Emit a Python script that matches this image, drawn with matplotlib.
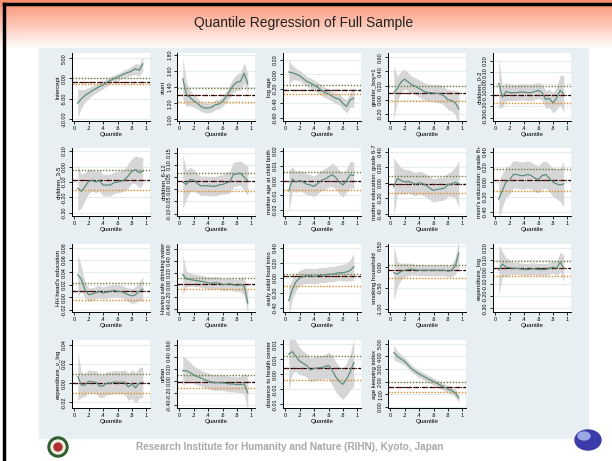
import numpy as np
import matplotlib
matplotlib.use("Agg")
import matplotlib.pyplot as plt
from matplotlib.patches import Rectangle, Circle, Ellipse

plt.rcParams['font.family'] = ['Liberation Sans', 'DejaVu Sans']

W, H = 612, 461

# quantile grid
quantiles = [0.05, 0.10, 0.15, 0.20, 0.25, 0.30, 0.35, 0.40, 0.45, 0.50,
             0.55, 0.60, 0.65, 0.70, 0.75, 0.80, 0.85, 0.90, 0.95]

# --- coefficients (estimate, CI half width) and OLS (estimate, lower, upper) ---
intercept_est = [-6.1, -5.0, -4.2, -3.6, -3.0, -2.5, -2.0, -1.6, -1.0, -0.5, 0.0, 0.3, 0.8, 1.2, 1.5, 1.9, 2.4, 2.0, 3.6]
intercept_hw = [3.5, 2.2, 1.6, 1.4, 1.2, 1.1, 1.0, 1.0, 0.9, 0.9, 0.9, 0.9, 0.9, 0.9, 1.0, 1.1, 1.3, 1.5, 1.8]
intercept_ols = [-0.85, -1.45, 0.17]

stunt_est = [1.50, 1.31, 1.27, 1.23, 1.20, 1.16, 1.14, 1.14, 1.15, 1.18, 1.19, 1.22, 1.28, 1.35, 1.42, 1.46, 1.47, 1.57, 1.44]
stunt_hw = [0.25, 0.15, 0.10, 0.08, 0.07, 0.06, 0.06, 0.06, 0.06, 0.06, 0.06, 0.06, 0.07, 0.08, 0.09, 0.10, 0.11, 0.13, 0.12]
stunt_ols = [1.30, 1.21, 1.39]

logage_est = [0.03, 0.02, 0.0, -0.02, -0.06, -0.10, -0.12, -0.15, -0.18, -0.22, -0.25, -0.27, -0.30, -0.33, -0.34, -0.40, -0.44, -0.35, -0.33]
logage_hw = [0.16, 0.10, 0.08, 0.07, 0.07, 0.07, 0.07, 0.07, 0.07, 0.07, 0.07, 0.07, 0.07, 0.07, 0.08, 0.08, 0.09, 0.10, 0.12]
logage_ols = [-0.21, -0.27, -0.15]

gender_est = [0.095, 0.16, 0.25, 0.29, 0.25, 0.21, 0.19, 0.16, 0.13, 0.105, 0.10, 0.095, 0.09, 0.08, 0.05, 0.0, -0.01, -0.04, -0.13]
gender_hw = [0.38, 0.17, 0.15, 0.14, 0.13, 0.12, 0.12, 0.12, 0.12, 0.12, 0.12, 0.12, 0.13, 0.13, 0.13, 0.14, 0.15, 0.17, 0.25]
gender_ols = [0.095, -0.015, 0.19]

ch02_est = [0.0, -0.12, -0.07, -0.08, -0.08, -0.08, -0.075, -0.075, -0.08, -0.08, -0.07, -0.06, -0.08, -0.14, -0.13, -0.17, -0.13, -0.06, -0.09]
ch02_hw = [0.22, 0.09, 0.08, 0.07, 0.07, 0.07, 0.07, 0.07, 0.07, 0.07, 0.07, 0.07, 0.07, 0.08, 0.08, 0.09, 0.10, 0.13, 0.16]
ch02_ols = [-0.10, -0.17, -0.017]

ch35_est = [-0.14, -0.16, -0.13, -0.095, -0.09, -0.10, -0.09, -0.12, -0.12, -0.12, -0.105, -0.10, -0.095, -0.085, -0.06, -0.03, -0.02, -0.04, -0.03]
ch35_hw = [0.15, 0.11, 0.09, 0.08, 0.07, 0.07, 0.07, 0.07, 0.07, 0.07, 0.07, 0.07, 0.07, 0.07, 0.08, 0.08, 0.09, 0.10, 0.09]
ch35_ols = [-0.09, -0.15, -0.025]

ch612_est = [0.03, 0.02, 0.04, 0.038, 0.025, 0.014, 0.015, 0.014, 0.013, 0.012, 0.018, 0.02, 0.026, 0.03, 0.06, 0.064, 0.066, 0.05, 0.035]
ch612_hw = [0.11, 0.06, 0.05, 0.045, 0.04, 0.04, 0.04, 0.04, 0.04, 0.04, 0.04, 0.04, 0.045, 0.045, 0.05, 0.05, 0.05, 0.055, 0.06]
ch612_ols = [0.033, -0.007, 0.069]

mage_est = [-0.007, 0.001, -0.001, 0.0, -0.001, -0.0025, -0.003, -0.004, -0.002, 0.0, 0.001, 0.0025, 0.004, 0.002, -0.001, -0.003, 0.0, 0.004, 0.0035]
mage_hw = [0.014, 0.008, 0.007, 0.007, 0.007, 0.007, 0.007, 0.007, 0.007, 0.007, 0.007, 0.007, 0.008, 0.008, 0.008, 0.008, 0.008, 0.009, 0.009]
mage_ols = [-0.0005, -0.0065, 0.0055]

medu67_est = [-0.05, 0.055, 0.03, 0.01, 0.02, 0.0, -0.02, 0.0, -0.01, -0.035, -0.07, -0.1, -0.085, -0.08, -0.07, -0.025, -0.015, 0.005, -0.015]
medu67_hw = [0.38, 0.20, 0.17, 0.16, 0.15, 0.15, 0.15, 0.15, 0.15, 0.15, 0.15, 0.15, 0.15, 0.15, 0.15, 0.15, 0.16, 0.20, 0.30]
medu67_ols = [-0.015, -0.13, 0.09]

medu8_est = [-0.225, -0.11, 0.0, 0.025, 0.1, 0.1, 0.085, 0.085, 0.1, 0.085, 0.05, 0.035, 0.085, 0.1, 0.05, 0.0, -0.025, -0.04, -0.025]
medu8_hw = [0.25, 0.22, 0.20, 0.19, 0.18, 0.18, 0.18, 0.18, 0.18, 0.18, 0.18, 0.18, 0.18, 0.18, 0.18, 0.19, 0.20, 0.22, 0.30]
medu8_ols = [0.025, -0.115, 0.175]

hhedu_est = [0.036, 0.029, 0.012, 0.004, 0.005, 0.0075, 0.009, 0.0065, 0.008, 0.0095, 0.011, 0.0095, 0.009, 0.0065, 0.004, 0.002, 0.004, 0.0095, 0.013]
hhedu_hw = [0.035, 0.02, 0.013, 0.011, 0.01, 0.01, 0.01, 0.01, 0.01, 0.01, 0.01, 0.01, 0.01, 0.01, 0.011, 0.012, 0.013, 0.015, 0.02]
hhedu_ols = [0.0106, -0.0045, 0.023]

water_est = [0.17, 0.10, 0.09, 0.08, 0.07, 0.06, 0.05, 0.03, 0.03, 0.035, 0.03, 0.005, 0.01, 0.02, 0.0, -0.01, 0.005, -0.02, -0.30]
water_hw = [0.33, 0.13, 0.11, 0.10, 0.10, 0.10, 0.10, 0.10, 0.10, 0.10, 0.10, 0.10, 0.10, 0.10, 0.10, 0.10, 0.12, 0.15, 0.18]
water_ols = [0.02, -0.07, 0.12]

food_est = [-0.30, -0.15, -0.05, 0.0, 0.02, 0.03, 0.03, 0.02, 0.03, 0.04, 0.04, 0.05, 0.05, 0.06, 0.07, 0.07, 0.08, 0.10, 0.15]
food_hw = [0.20, 0.13, 0.11, 0.10, 0.10, 0.10, 0.10, 0.10, 0.10, 0.10, 0.10, 0.10, 0.10, 0.10, 0.10, 0.11, 0.12, 0.14, 0.18]
food_ols = [0.02, -0.10, 0.05]

smoke_est = [-0.14, -0.17, -0.11, -0.08, -0.06, -0.05, -0.07, -0.08, -0.08, -0.08, -0.08, -0.08, -0.08, -0.08, -0.08, -0.10, -0.08, 0.02, 0.33]
smoke_hw = [0.65, 0.30, 0.20, 0.17, 0.15, 0.14, 0.13, 0.13, 0.13, 0.13, 0.13, 0.13, 0.13, 0.13, 0.13, 0.14, 0.15, 0.20, 0.35]
smoke_ols = [-0.08, -0.26, 0.045]

explog_est = [0.014, 0.066, 0.04, 0.035, 0.03, 0.03, 0.025, 0.02, 0.02, 0.025, 0.025, 0.02, 0.02, 0.02, 0.03, 0.04, 0.03, 0.08, 0.03]
explog_hw = [0.21, 0.10, 0.08, 0.06, 0.05, 0.05, 0.05, 0.05, 0.05, 0.05, 0.05, 0.05, 0.05, 0.05, 0.05, 0.05, 0.06, 0.08, 0.11]
explog_ol = [0.03, -0.03, 0.094]

expv_est = [0.007, -0.002, -0.002, 0.002, 0.001, 0.001, -0.003, -0.003, 0.0, 0.0, 0.001, 0.001, 0.001, 0.001, -0.004, -0.001, -0.005, 0.0, 0.001]
expv_hw = [0.025, 0.013, 0.012, 0.012, 0.012, 0.012, 0.012, 0.012, 0.012, 0.012, 0.012, 0.012, 0.012, 0.013, 0.014, 0.015, 0.016, 0.016, 0.016]
expv_ols = [0.0, -0.010, 0.010]

urban_est = [0.17, 0.17, 0.14, 0.10, 0.07, 0.05, 0.02, 0.0, -0.02, -0.03, -0.03, -0.03, -0.04, -0.05, -0.05, -0.06, -0.06, -0.05, -0.20]
urban_hw = [0.25, 0.20, 0.17, 0.15, 0.14, 0.13, 0.13, 0.13, 0.13, 0.13, 0.13, 0.13, 0.13, 0.13, 0.13, 0.13, 0.14, 0.17, 0.30]
urban_ols = [-0.01, -0.11, 0.10]

dist_est = [0.0068, 0.0076, 0.006, 0.0045, 0.0037, 0.003, 0.0015, 0.002, 0.0022, 0.0023, 0.0026, 0.003, 0.0015, -0.0008, -0.0023, -0.0033, -0.0015, 0.0008, 0.004]
dist_hw = [0.012, 0.007, 0.005, 0.0045, 0.004, 0.004, 0.004, 0.004, 0.004, 0.004, 0.004, 0.0045, 0.005, 0.005, 0.005, 0.005, 0.0055, 0.006, 0.008]
dist_ols = [0.002, -0.002, 0.006]

agekeep_est = [4.3, 4.0, 3.8, 3.6, 3.3, 3.0, 2.8, 2.6, 2.45, 2.3, 2.15, 2.0, 1.85, 1.7, 1.55, 1.4, 1.3, 1.1, 0.7]
agekeep_hw = [0.6, 0.4, 0.35, 0.3, 0.3, 0.28, 0.28, 0.28, 0.28, 0.28, 0.28, 0.28, 0.28, 0.28, 0.28, 0.3, 0.3, 0.32, 0.35]
agekeep_ols = [1.6, 1.2, 2.0]

# y axis labels and ticks of each panel
ylabels = ["Intercept", "stunt", "log age", "gender_boy=1", "children_0-2",
           "children_3-5", "children_6-12", "mother age at child birth",
           "mother education: grade 6-7", "mom's education: grade 8+",
           "HH head's education", "Having safe drinking water",
           "early solid food intro", "smoking household", "expenditure_log",
           "expenditure_v_log", "urban", "distance to health center", "age keeping index"]

yticks = [
    [-10, -5, 0, 5], [1.0, 1.2, 1.4, 1.6, 1.8], [-0.6, -0.4, -0.2, 0.0, 0.2],
    [-0.2, 0.0, 0.2, 0.4, 0.6], [-0.3, -0.2, -0.1, 0.0, 0.1, 0.2],
    [-0.3, -0.2, -0.1, 0.0, 0.1], [-0.10, -0.05, 0.0, 0.05, 0.10, 0.15],
    [-0.02, -0.01, 0.0, 0.01, 0.02], [-0.4, -0.2, 0.0, 0.2, 0.4],
    [-0.4, -0.2, 0.0, 0.2, 0.4], [-0.02, 0.0, 0.02, 0.04, 0.06, 0.08],
    [-0.4, -0.2, 0.0, 0.2, 0.4, 0.6], [-0.4, -0.2, 0.0, 0.2, 0.4],
    [-1.0, -0.5, 0.0, 0.5], [-0.3, -0.2, -0.1, 0.0, 0.1, 0.2],
    [-0.02, 0.0, 0.02, 0.04], [-0.4, -0.2, 0.0, 0.2, 0.4, 0.6],
    [-0.010, -0.005, 0.0, 0.005, 0.010], [0, 1, 2, 3, 4, 5]]

ylims = [(-10.5, 6.3), (0.98, 1.82), (-0.64, 0.29), (-0.3, 0.66), (-0.33, 0.27),
         (-0.32, 0.12), (-0.11, 0.17), (-0.024, 0.022), (-0.43, 0.45), (-0.45, 0.45),
         (-0.024, 0.086), (-0.45, 0.68), (-0.45, 0.45), (-1.08, 0.55), (-0.33, 0.23),
         (-0.026, 0.045), (-0.45, 0.68), (-0.0112, 0.0115), (-0.1, 5.3)]

panels = [
    (intercept_est, intercept_hw, intercept_ols), (stunt_est, stunt_hw, stunt_ols),
    (logage_est, logage_hw, logage_ols), (gender_est, gender_hw, gender_ols),
    (ch02_est, ch02_hw, ch02_ols), (ch35_est, ch35_hw, ch35_ols),
    (ch612_est, ch612_hw, ch612_ols), (mage_est, mage_hw, mage_ols),
    (medu67_est, medu67_hw, medu67_ols), (medu8_est, medu8_hw, medu8_ols),
    (hhedu_est, hhedu_hw, hhedu_ols), (water_est, water_hw, water_ols),
    (food_est, food_hw, food_ols), (smoke_est, smoke_hw, smoke_ols),
    (explog_est, explog_hw, explog_ol), (expv_est, expv_hw, expv_ols),
    (urban_est, urban_hw, urban_ols), (dist_est, dist_hw, dist_ols),
    (agekeep_est, agekeep_hw, agekeep_ols)]


def fmt2(v):
    s = "%.2f" % v
    if s == "-0.00":
        s = "0.00"
    return s


fig = plt.figure(figsize=(W / 100, H / 100), dpi=100)

# background: title gradient, border, panel
bg = fig.add_axes([0, 0, 1, 1])
bg.set_xlim(0, W)
bg.set_ylim(H, 0)
bg.axis('off')
grad = np.ones((H, 1, 3))
top_col = np.array([0.98, 0.55, 0.42])
for i in range(50):
    t = i / 49
    grad[i, 0] = top_col * (1 - t) + np.array([1, 1, 1]) * t
bg.imshow(grad, extent=[0, W, H, 0], aspect='auto', zorder=0)
bg.add_patch(Rectangle((39, 48), 549, 390, color='#e8eff2', zorder=1))
bg.plot([4, 4], [4, H], color='black', lw=2.5, zorder=2)
bg.plot([4, W], [4, 4], color='black', lw=2.5, zorder=2)
bg.text(W / 2 - 2, 23, "Quantile Regression of Full Sample", ha='center', va='center',
        fontsize=10, color='#222222', zorder=3)
bg.text(290, 447, "Research Institute for Humanity and Nature (RIHN), Kyoto, Japan",
        ha='center', va='center', fontsize=7.2, fontweight='bold', color='#a8a8a8', zorder=3)
# logos
bg.add_patch(Circle((58, 447), 10, color='#2e5e2e', zorder=3))
bg.add_patch(Circle((58, 447), 7, color='#f4efe0', zorder=4))
bg.add_patch(Circle((58, 447), 4, color='#b03030', zorder=5))
bg.add_patch(Ellipse((588, 440), 26, 20, color='#3a3aa8', zorder=3))
bg.add_patch(Ellipse((584, 436), 12, 8, color='#9aa6e6', zorder=4))

col_left = [72, 177, 283, 388, 493]
row_top = [53, 148, 244, 340]
pw, ph = 78, 68

for k, (est, hw, ols) in enumerate(panels):
    r, c = divmod(k, 5)
    L, T = col_left[c], row_top[r]
    ax = fig.add_axes([L / W, 1 - (T + ph) / H, pw / W, ph / H])
    ax.set_facecolor('white')
    est = np.array(est)
    hw = np.array(hw)
    ax.fill_between(quantiles, est - hw, est + hw, color='#d6d6d6', lw=0, zorder=1)
    ax.plot(quantiles, est, color='#5e8c7c', lw=0.9, zorder=3)
    ax.axhline(ols[2], color='#6b7a3a', ls=(0, (1, 1.2)), lw=1.0, zorder=2)
    ax.axhline(ols[1], color='#e08a20', ls=(0, (1, 1.2)), lw=1.0, zorder=2)
    ax.axhline(ols[0], color='#8b2020', ls=(0, (4, 2)), lw=1.0, zorder=2)
    ax.axhline(ols[0], color='black', ls=(0, (3, 1.5, 1, 1.5)), lw=0.7, zorder=2)
    ax.set_xlim(-0.03, 1.05)
    ax.set_ylim(*ylims[k])
    ax.set_xticks([0, 0.2, 0.4, 0.6, 0.8, 1])
    ax.set_xticklabels(["0", ".2", ".4", ".6", ".8", "1"])
    ax.set_yticks(yticks[k])
    if k == 0:
        ax.set_yticklabels(["%.2f" % v for v in yticks[k]])
    else:
        ax.set_yticklabels([fmt2(v) for v in yticks[k]])
    for lab in ax.get_yticklabels():
        lab.set_rotation(90)
        lab.set_va('center')
    ax.tick_params(labelsize=3.9, length=2, width=0.6, pad=1.5, colors='black')
    ax.grid(axis='y', color='#e3ecef', lw=0.8, zorder=0)
    ax.set_axisbelow(True)
    for s in ['top', 'right']:
        ax.spines[s].set_visible(False)
    for s in ['left', 'bottom']:
        ax.spines[s].set_linewidth(0.7)
    ax.set_xlabel("Quantile", fontsize=4.5, labelpad=1)
    ax.set_ylabel(ylabels[k], fontsize=4.3, labelpad=1)

fig.savefig("out.png", dpi=100)
